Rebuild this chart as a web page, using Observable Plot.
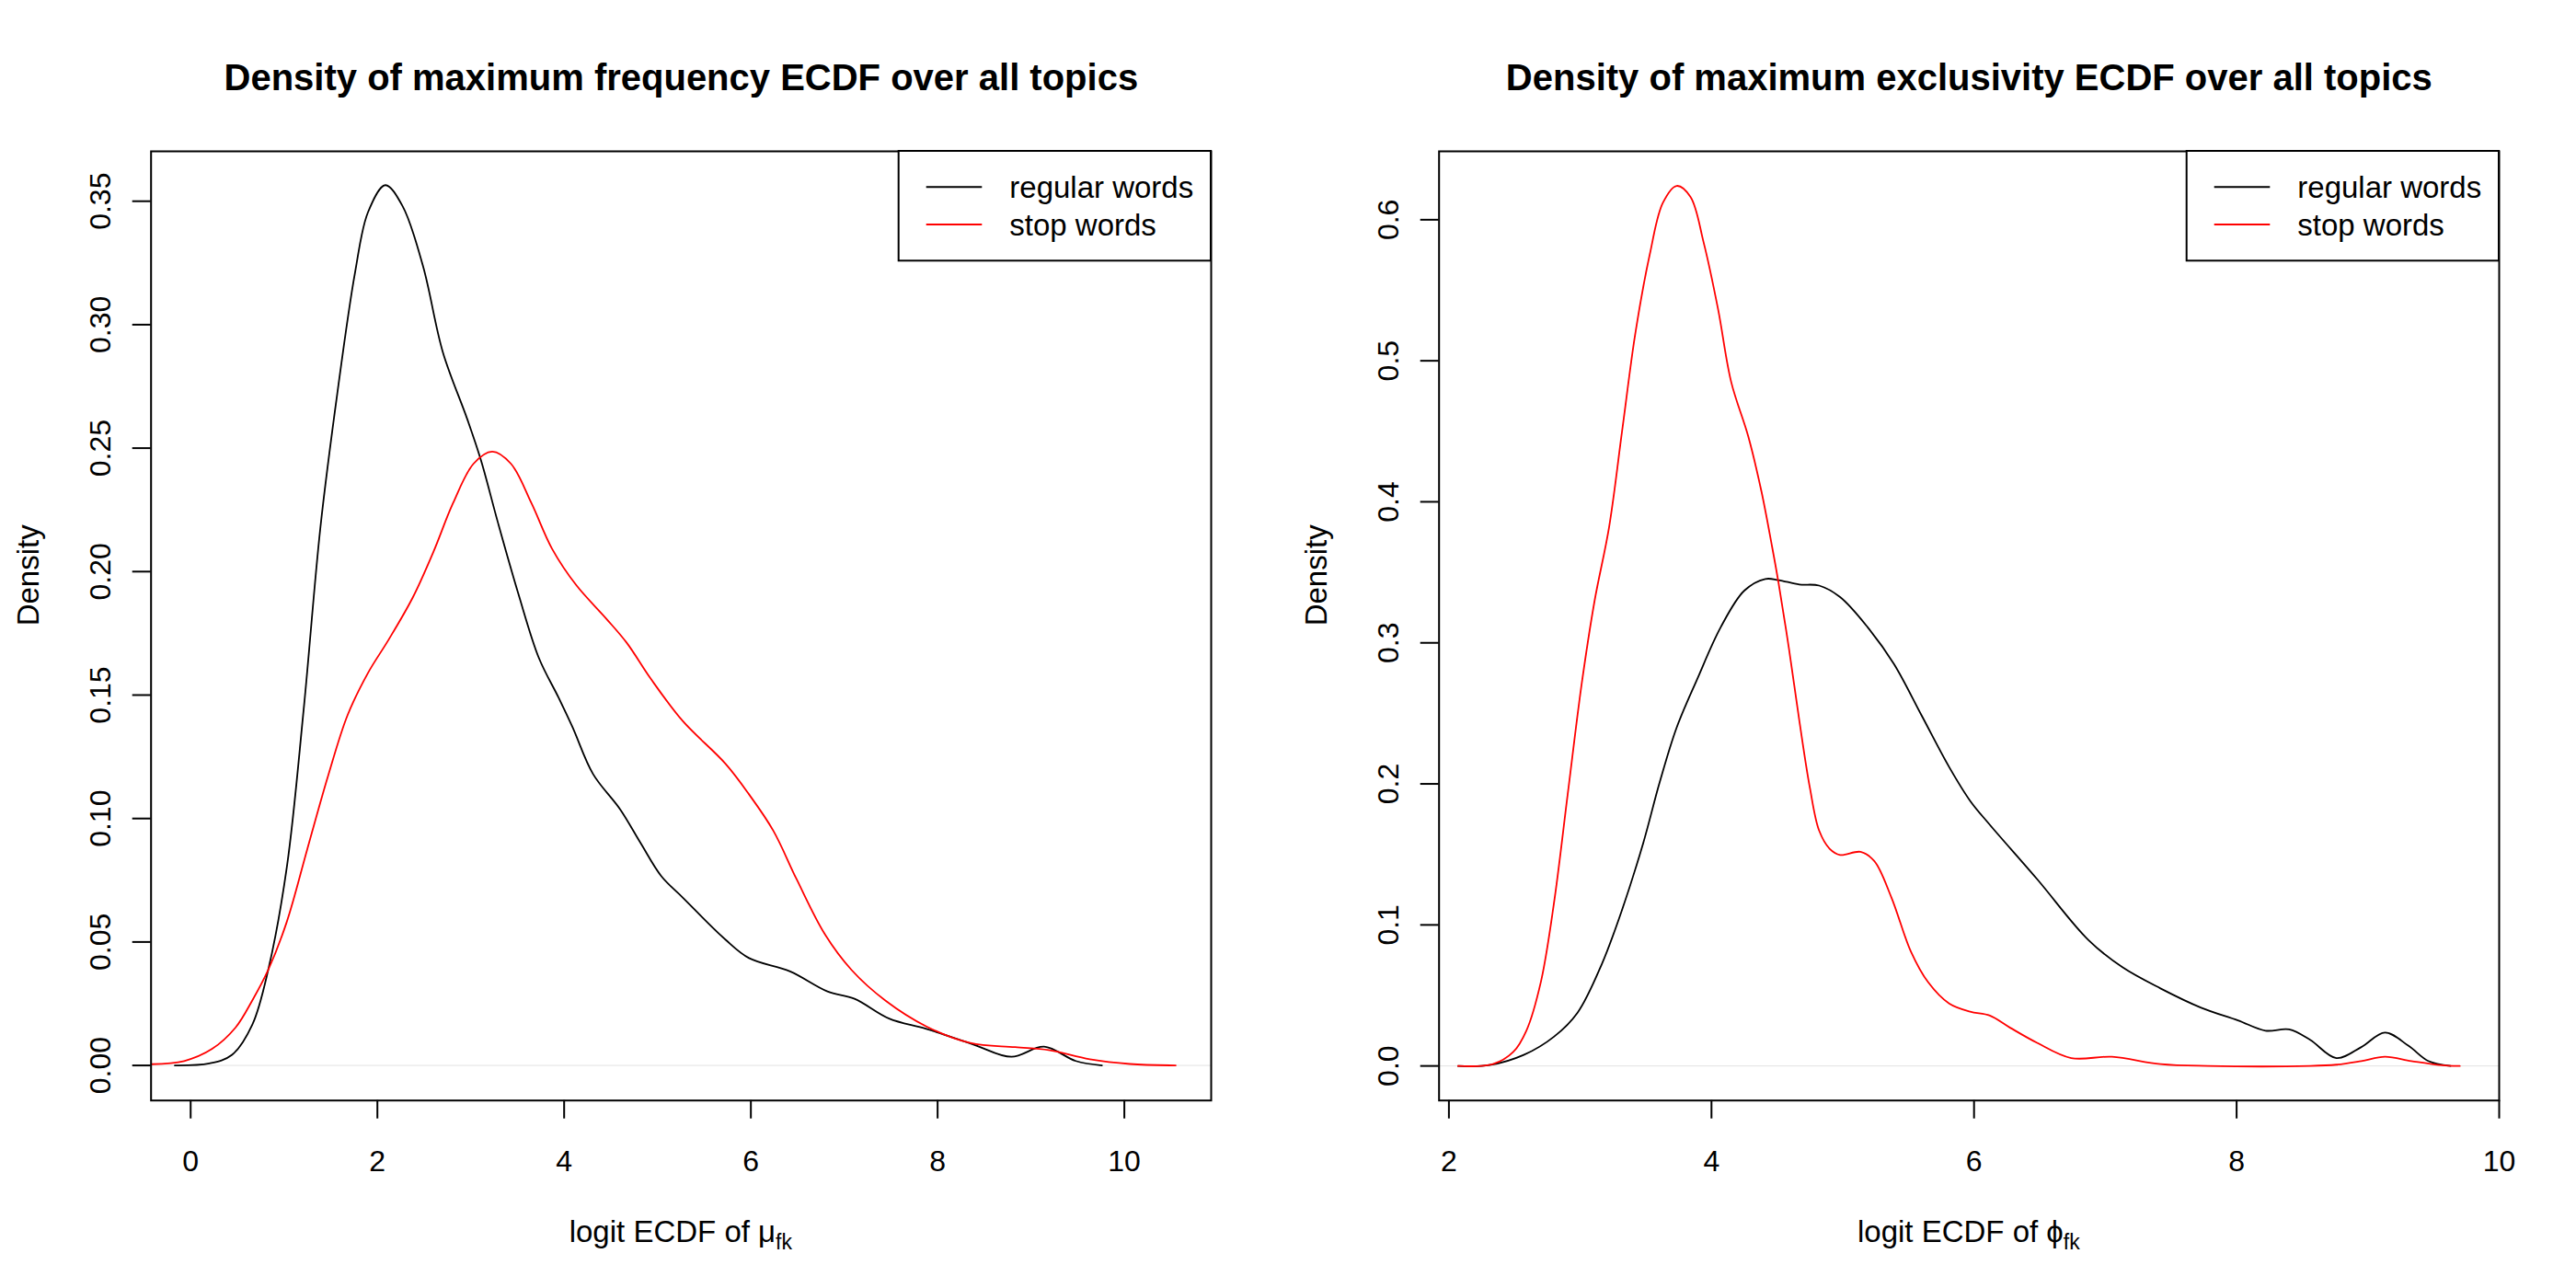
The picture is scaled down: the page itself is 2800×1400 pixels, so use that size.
<!DOCTYPE html>
<html>
<head>
<meta charset="utf-8">
<script src="https://cdn.jsdelivr.net/npm/d3@7"></script>
<script src="https://cdn.jsdelivr.net/npm/@observablehq/plot@0.6"></script>
<style>
  html, body { margin: 0; padding: 0; background: #ffffff; }
  #wrap { display: flex; width: 2800px; height: 1400px; background: #ffffff; }
  #wrap svg { display: block; }
</style>
</head>
<body>
<div id="wrap"></div>
<script>
// ---------- data ----------
const seriesNames = ["regular words", "stop words"];
const seriesColors = ["#000000", "#ff0000"];

const titles = [
  "Density of maximum frequency ECDF over all topics",
  "Density of maximum exclusivity ECDF over all topics"
];
const xSymbols = ["\u03BC", "\u03D5"];
const xLabelText = "logit ECDF of ";
const xLabelSub = "fk";
const yLabelText = "Density";

const freqXTicks = [0, 2, 4, 6, 8, 10];
const freqYTicks = [0, 0.05, 0.10, 0.15, 0.20, 0.25, 0.30, 0.35];
const exclXTicks = [2, 4, 6, 8, 10];
const exclYTicks = [0, 0.1, 0.2, 0.3, 0.4, 0.5, 0.6];

// left panel: frequency
const freqRegularX = [-0.17, 0.2, 0.44, 0.66, 0.83, 1.03, 1.21, 1.39, 1.57, 1.76, 1.90, 2.085, 2.27, 2.49, 2.70, 2.96, 3.11, 3.29, 3.51, 3.73, 3.94, 4.09, 4.31, 4.60, 4.82, 5.04, 5.27, 5.73, 5.98, 6.42, 6.82, 7.11, 7.48, 7.88, 8.39, 8.79, 9.14, 9.48, 9.76];
const freqRegularY = [0, 0.0008, 0.0042, 0.0165, 0.0386, 0.0803, 0.144, 0.218, 0.272, 0.321, 0.3456, 0.3565, 0.348, 0.3235, 0.289, 0.262, 0.245, 0.220, 0.191, 0.165, 0.149, 0.137, 0.118, 0.1037, 0.090, 0.0767, 0.068, 0.0509, 0.0435, 0.0381, 0.030, 0.027, 0.019, 0.0148, 0.0084, 0.0035, 0.0076, 0.0018, 0];
const freqStopX = [-0.42, -0.07, 0.23, 0.48, 0.66, 0.83, 1.03, 1.25, 1.47, 1.68, 1.90, 2.12, 2.38, 2.60, 2.81, 3.03, 3.23, 3.43, 3.65, 3.87, 4.13, 4.45, 4.67, 4.93, 5.27, 5.73, 5.98, 6.24, 6.49, 6.79, 7.08, 7.44, 7.88, 8.35, 8.83, 9.19, 9.63, 10.06, 10.55];
const freqStopY = [0.0005, 0.0018, 0.0067, 0.0153, 0.0263, 0.0386, 0.0582, 0.0877, 0.117, 0.1418, 0.159, 0.1724, 0.1896, 0.208, 0.2277, 0.2437, 0.2486, 0.2437, 0.2277, 0.2093, 0.1945, 0.181, 0.1712, 0.1565, 0.1395, 0.1221, 0.1098, 0.0951, 0.0754, 0.0533, 0.0386, 0.0263, 0.0158, 0.0091, 0.0074, 0.0062, 0.0025, 0.0006, 0];

// right panel: exclusivity
const exclRegularX = [2.07, 2.31, 2.57, 2.80, 2.98, 3.165, 3.32, 3.48, 3.605, 3.735, 3.89, 4.07, 4.25, 4.41, 4.51, 4.67, 4.82, 4.98, 5.19, 5.39, 5.60, 5.81, 5.97, 6.12, 6.48, 6.87, 7.13, 7.42, 7.73, 8.01, 8.22, 8.40, 8.56, 8.76, 8.95, 9.13, 9.31, 9.46, 9.63];
const exclRegularY = [0, 0.0006, 0.0078, 0.0207, 0.0378, 0.0723, 0.111, 0.158, 0.201, 0.240, 0.274, 0.311, 0.337, 0.3453, 0.3445, 0.3414, 0.3406, 0.3324, 0.311, 0.285, 0.2486, 0.212, 0.188, 0.171, 0.1325, 0.0894, 0.070, 0.055, 0.0413, 0.0323, 0.025, 0.0259, 0.0185, 0.0056, 0.0134, 0.0237, 0.0142, 0.0035, 0];
const exclStopX = [2.07, 2.335, 2.49, 2.59, 2.70, 2.80, 2.905, 3.01, 3.11, 3.22, 3.32, 3.42, 3.53, 3.63, 3.735, 3.84, 3.94, 4.05, 4.15, 4.28, 4.38, 4.46, 4.51, 4.59, 4.67, 4.75, 4.82, 4.90, 4.98, 5.135, 5.24, 5.37, 5.52, 5.65, 5.81, 5.97, 6.12, 6.275, 6.48, 6.74, 7.05, 7.42, 7.78, 8.56, 8.76, 8.95, 9.13, 9.33, 9.54, 9.70];
const exclStopY = [0, 0.0013, 0.0099, 0.025, 0.0594, 0.1153, 0.1927, 0.270, 0.330, 0.382, 0.4507, 0.5194, 0.5754, 0.612, 0.624, 0.6162, 0.584, 0.5367, 0.485, 0.4464, 0.4076, 0.369, 0.343, 0.296, 0.2443, 0.197, 0.1669, 0.154, 0.1496, 0.1518, 0.1453, 0.1196, 0.0809, 0.0594, 0.0443, 0.0385, 0.0357, 0.0271, 0.0164, 0.0056, 0.0065, 0.0013, 0, 0, 0.0009, 0.0035, 0.0065, 0.0035, 0.0007, 0];

// ---------- drawing ----------
const FONT = "'Liberation Sans', Arial, Helvetica, sans-serif";
const W = 1400, H = 1400;
const M = {left: 163.7, right: 84, top: 164, bottom: 204.3};

function toRows(xs, ys, name) {
  return xs.map((x, i) => ({x, y: ys[i], name}));
}

function panel({title, sym, xDomain, yDomain, xTicks, yTicks, xFmt, yFmt, series}) {
  const rows = series.flatMap(s => toRows(s.x, s.y, s.name));
  const svg = Plot.plot({
    width: W, height: H,
    marginLeft: M.left, marginRight: M.right, marginTop: M.top, marginBottom: M.bottom,
    style: {fontFamily: FONT, fontSize: "32px", background: "#ffffff", color: "#000000"},
    x: {domain: xDomain},
    y: {domain: yDomain},
    color: {domain: seriesNames, range: seriesColors},
    marks: [
      Plot.ruleY([0], {stroke: "#e2e2e2", strokeWidth: 1}),
      Plot.line(rows, {x: "x", y: "y", z: "name", stroke: "name", strokeWidth: 1.8, curve: "catmull-rom", clip: true}),
      Plot.frame({stroke: "#000000", strokeWidth: 2}),
      Plot.axisX(xTicks, {tickSize: 20, tickPadding: 34, tickFormat: d3.format(xFmt), fontSize: 32, label: null, strokeWidth: 2}),
      Plot.axisY(yTicks, {tickSize: 20, tickPadding: 24, tickRotate: -90, tickFormat: d3.format(yFmt), fontSize: 32, label: null, strokeWidth: 2}),
      Plot.text([title], {text: d => d, frameAnchor: "top", dy: -67, lineAnchor: "bottom", fontSize: 40, fontWeight: "bold", fill: "#000000"}),
      Plot.text([yLabelText], {text: d => d, frameAnchor: "left", dx: -122, rotate: -90, lineAnchor: "bottom", fontSize: 33, fill: "#000000"})
    ]
  });

  const s = d3.select(svg);
  const cx = M.left + (W - M.left - M.right) / 2;
  // x label with subscript
  const t = s.append("text")
    .attr("x", cx).attr("y", 1350)
    .attr("text-anchor", "middle")
    .attr("font-family", FONT).attr("font-size", 33).attr("fill", "#000");
  t.append("tspan").text(xLabelText + sym);
  t.append("tspan").attr("font-size", 23).attr("dy", 8).text(xLabelSub);

  // legend (top-right, inside the frame)
  const legW = 339.3, legH = 119.3;
  const legL = W - M.right - legW, legT = M.top;
  const g = s.append("g").attr("font-family", FONT).attr("font-size", 33).attr("text-anchor", "start");
  g.append("rect").attr("x", legL).attr("y", legT).attr("width", legW).attr("height", legH)
    .attr("fill", "#fff").attr("stroke", "#000").attr("stroke-width", 2);
  seriesNames.forEach((name, i) => {
    const ly = legT + 39.3 + i * 40.7;
    g.append("line").attr("x1", legL + 30).attr("x2", legL + 90.6).attr("y1", ly).attr("y2", ly)
      .attr("stroke", seriesColors[i]).attr("stroke-width", 2);
    g.append("text").attr("x", legL + 120.6).attr("y", ly + 11.5)
      .attr("text-anchor", "start").attr("fill", "#000").text(name);
  });
  return svg;
}

const wrap = document.getElementById("wrap");
wrap.appendChild(panel({
  title: titles[0], sym: xSymbols[0],
  xDomain: [-0.424, 10.93], yDomain: [-0.0142, 0.3702],
  xTicks: freqXTicks, yTicks: freqYTicks, xFmt: "d", yFmt: ".2f",
  series: [
    {name: seriesNames[0], x: freqRegularX, y: freqRegularY},
    {name: seriesNames[1], x: freqStopX, y: freqStopY}
  ]
}));
wrap.appendChild(panel({
  title: titles[1], sym: xSymbols[1],
  xDomain: [1.925, 10.0], yDomain: [-0.0245, 0.6485],
  xTicks: exclXTicks, yTicks: exclYTicks, xFmt: "d", yFmt: ".1f",
  series: [
    {name: seriesNames[0], x: exclRegularX, y: exclRegularY},
    {name: seriesNames[1], x: exclStopX, y: exclStopY}
  ]
}));
</script>
</body>
</html>
